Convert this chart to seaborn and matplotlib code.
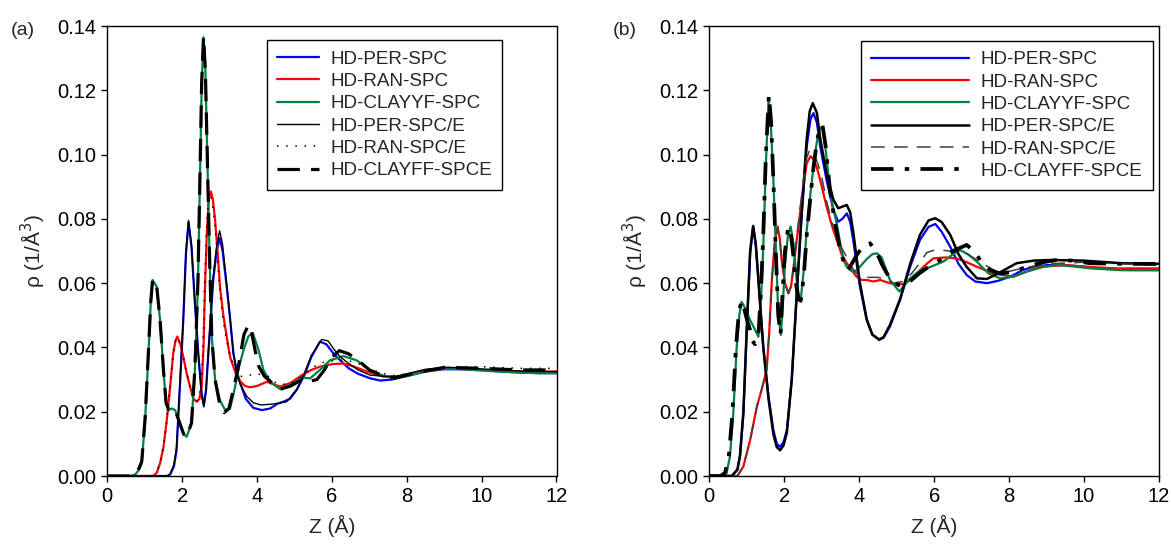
import matplotlib
matplotlib.use("Agg")
import matplotlib.pyplot as plt
import seaborn as sns
import pandas as pd

# ---------------- Panel (a) data ----------------
a_per_spc_z = [0, 1.3, 1.6, 1.68, 1.78, 1.85, 1.94, 2.03, 2.10, 2.17, 2.25, 2.34, 2.43, 2.52, 2.58, 2.64, 2.70,
               2.83, 2.92, 3.00, 3.08, 3.19, 3.28, 3.37, 3.46, 3.55, 3.70, 3.90, 4.13, 4.35, 4.55, 4.70, 4.88,
               5.06, 5.25, 5.45, 5.68, 5.85, 6.05, 6.22, 6.45, 6.70, 7.02, 7.29, 7.60, 8.0, 8.5, 8.98, 9.5,
               10.0, 10.5, 11.0, 11.5, 12.0]
a_per_spc = [0, 0, 0.0, 0.0005, 0.003, 0.008, 0.028, 0.0485, 0.069, 0.079, 0.0713, 0.0537, 0.0382, 0.0257,
             0.022, 0.027, 0.0382, 0.061, 0.070, 0.074, 0.070, 0.059, 0.049, 0.038, 0.0325, 0.029, 0.024,
             0.0212, 0.0205, 0.021, 0.0225, 0.0231, 0.024, 0.0268, 0.031, 0.037, 0.0418, 0.041, 0.038,
             0.036, 0.0335, 0.0318, 0.0304, 0.0297, 0.030, 0.0312, 0.0325, 0.0332, 0.0332, 0.033, 0.0325,
             0.0322, 0.032, 0.032]

a_ran_spc_z = [0, 1.23, 1.32, 1.41, 1.50, 1.59, 1.68, 1.76, 1.82, 1.87, 1.95, 2.03, 2.12, 2.21, 2.30, 2.39,
               2.46, 2.52, 2.57, 2.61, 2.66, 2.71, 2.77, 2.82, 2.88, 2.95, 3.01, 3.10, 3.19, 3.28, 3.37, 3.46,
               3.55, 3.68, 3.81, 4.0, 4.26, 4.45, 4.62, 4.9, 5.2, 5.45, 5.68, 6.0, 6.31, 6.6, 6.93, 7.38, 7.8,
               8.4, 9.0, 9.5, 10.0, 11.0, 12.0]
a_ran_spc = [0, 0, 0.001, 0.004, 0.009, 0.0174, 0.028, 0.038, 0.042, 0.0434, 0.041, 0.0371, 0.032, 0.0278,
             0.024, 0.0231, 0.024, 0.0278, 0.040, 0.0589, 0.076, 0.086, 0.0885, 0.086, 0.0797, 0.069, 0.0589,
             0.050, 0.0433, 0.037, 0.034, 0.031, 0.0295, 0.028, 0.0276, 0.028, 0.0293, 0.0285, 0.0278, 0.029,
             0.0314, 0.033, 0.034, 0.0348, 0.035, 0.034, 0.0325, 0.0309, 0.031, 0.0325, 0.0334, 0.0333, 0.033,
             0.0325, 0.0325]

a_clayyf_spc_z = [0, 0.6, 0.75, 0.85, 0.92, 1.01, 1.10, 1.16, 1.21, 1.32, 1.41, 1.50, 1.57, 1.64, 1.72, 1.81,
                  1.94, 2.04, 2.12, 2.25, 2.34, 2.42, 2.48, 2.52, 2.57, 2.62, 2.67, 2.73, 2.79, 2.88, 3.01,
                  3.15, 3.28, 3.40, 3.52, 3.64, 3.77, 3.89, 4.04, 4.17, 4.35, 4.62, 4.88, 5.2, 5.42, 5.68,
                  5.95, 6.31, 6.66, 7.02, 7.3, 7.64, 8.0, 8.5, 8.98, 9.5, 10.0, 10.5, 11.0, 11.5, 12.0]
a_clayyf_spc = [0, 0, 0.0005, 0.002, 0.004, 0.0174, 0.0382, 0.0538, 0.061, 0.0589, 0.0485, 0.033, 0.0226,
                0.0205, 0.021, 0.0205, 0.0164, 0.013, 0.0122, 0.0164, 0.033, 0.0589, 0.0952, 0.121, 0.1365,
                0.1263, 0.1004, 0.0693, 0.0434, 0.0299, 0.0235, 0.0205, 0.021, 0.027, 0.034, 0.0392, 0.0435,
                0.0444, 0.0392, 0.033, 0.0293, 0.027, 0.0283, 0.0306, 0.0304, 0.033, 0.036, 0.0373, 0.036,
                0.033, 0.0315, 0.0304, 0.031, 0.0325, 0.0335, 0.0332, 0.0328, 0.0325, 0.0322, 0.032, 0.032]

a_per_spce_z = [0, 1.3, 1.6, 1.68, 1.78, 1.85, 1.94, 2.03, 2.10, 2.17, 2.25, 2.34, 2.43, 2.52, 2.58, 2.64,
                2.70, 2.83, 2.92, 3.00, 3.08, 3.19, 3.28, 3.37, 3.46, 3.55, 3.73, 3.90, 4.10, 4.44, 4.79,
                5.06, 5.25, 5.45, 5.73, 5.90, 6.05, 6.22, 6.45, 6.70, 7.02, 7.40, 7.70, 8.0, 8.5, 9.0, 9.5,
                10.0, 10.5, 11.0, 11.5, 12.0]
a_per_spce = [0, 0, 0.0, 0.0006, 0.0035, 0.009, 0.029, 0.049, 0.0695, 0.0795, 0.0715, 0.054, 0.038, 0.025,
              0.0215, 0.027, 0.039, 0.062, 0.0715, 0.0763, 0.072, 0.0595, 0.049, 0.038, 0.032, 0.0285,
              0.0247, 0.0228, 0.0221, 0.0224, 0.0231, 0.027, 0.0315, 0.0375, 0.0425, 0.042, 0.0395, 0.0371,
              0.035, 0.033, 0.0314, 0.031, 0.031, 0.0318, 0.0332, 0.0338, 0.0337, 0.0333, 0.033, 0.0327,
              0.0325, 0.0325]

a_ran_spce_z = [0, 1.23, 1.32, 1.41, 1.50, 1.59, 1.68, 1.76, 1.82, 1.87, 1.95, 2.03, 2.12, 2.21, 2.30, 2.39,
                2.46, 2.52, 2.57, 2.61, 2.66, 2.72, 2.78, 2.84, 2.90, 2.96, 3.02, 3.10, 3.19, 3.28, 3.37, 3.46,
                3.55, 3.7, 3.85, 4.0, 4.3, 4.5, 4.7, 4.95, 5.2, 5.45, 5.7, 6.0, 6.3, 6.6, 6.9, 7.3, 7.7, 8.2,
                8.8, 9.3, 10.0, 11.0, 12.0]
a_ran_spce = [0, 0, 0.001, 0.004, 0.009, 0.0174, 0.028, 0.038, 0.042, 0.0432, 0.041, 0.037, 0.032, 0.0278,
              0.024, 0.0232, 0.025, 0.030, 0.045, 0.062, 0.079, 0.0875, 0.0865, 0.082, 0.075, 0.065, 0.056,
              0.048, 0.042, 0.0375, 0.0345, 0.032, 0.031, 0.031, 0.0315, 0.0318, 0.031, 0.029, 0.0285, 0.029,
              0.031, 0.0335, 0.0352, 0.0358, 0.036, 0.0355, 0.034, 0.032, 0.0312, 0.0322, 0.0335, 0.034,
              0.034, 0.0335, 0.0335]

a_clayff_spce_z = [0, 0.6, 0.75, 0.85, 0.92, 1.01, 1.10, 1.16, 1.21, 1.32, 1.41, 1.50, 1.57, 1.64, 1.72,
                   1.81, 1.94, 2.04, 2.12, 2.25, 2.34, 2.42, 2.48, 2.52, 2.57, 2.62, 2.67, 2.73, 2.79, 2.88,
                   3.01, 3.12, 3.25, 3.37, 3.50, 3.65, 3.77, 3.85, 3.95, 4.05, 4.20, 4.40, 4.62, 4.90, 5.20,
                   5.42, 5.60, 5.80, 6.00, 6.20, 6.45, 6.70, 7.00, 7.40, 7.70, 8.20, 9.00, 10.0, 11.0, 12.0]
a_clayff_spce = [0, 0, 0.0005, 0.0025, 0.0045, 0.018, 0.039, 0.054, 0.0612, 0.059, 0.0485, 0.033, 0.0228,
                 0.0206, 0.021, 0.0205, 0.0163, 0.013, 0.0122, 0.0165, 0.0335, 0.060, 0.096, 0.122, 0.1368,
                 0.126, 0.100, 0.069, 0.0434, 0.0299, 0.022, 0.0197, 0.021, 0.027, 0.034, 0.044, 0.047,
                 0.045, 0.039, 0.034, 0.031, 0.029, 0.027, 0.028, 0.030, 0.0295, 0.030, 0.033, 0.037, 0.039,
                 0.038, 0.036, 0.033, 0.031, 0.0305, 0.032, 0.0338, 0.0335, 0.033, 0.033]

# ---------------- Panel (b) data ----------------
b_per_spc_z = [0, 0.6, 0.75, 0.82, 0.91, 1.0, 1.09, 1.17, 1.24, 1.31, 1.44, 1.58, 1.71, 1.80, 1.89, 1.98,
               2.07, 2.20, 2.33, 2.47, 2.60, 2.70, 2.78, 2.87, 2.96, 3.13, 3.31, 3.44, 3.55, 3.67, 3.76, 3.84,
               4.02, 4.20, 4.35, 4.53, 4.65, 4.82, 5.09, 5.36, 5.62, 5.85, 6.03, 6.20, 6.43, 6.65, 6.87, 7.10,
               7.41, 7.70, 8.03, 8.35, 8.65, 9.0, 9.36, 9.9, 10.43, 11.2, 12.0]
b_per_spc = [0, 0, 0.002, 0.006, 0.0195, 0.0454, 0.0693, 0.0776, 0.072, 0.061, 0.0402, 0.0247, 0.0143, 0.010,
             0.0091, 0.0105, 0.0143, 0.030, 0.0558, 0.0817, 0.1025, 0.111, 0.1129, 0.110, 0.1025, 0.092,
             0.0828, 0.0791, 0.080, 0.0817, 0.079, 0.0734, 0.0589, 0.0485, 0.044, 0.0423, 0.043, 0.0465,
             0.0548, 0.0651, 0.0734, 0.0775, 0.0784, 0.076, 0.0713, 0.066, 0.0625, 0.0605, 0.060, 0.0607,
             0.062, 0.064, 0.0651, 0.0656, 0.0657, 0.0652, 0.0646, 0.0641, 0.064]

b_ran_spc_z = [0, 0.75, 0.91, 1.09, 1.27, 1.40, 1.53, 1.60, 1.67, 1.74, 1.82, 1.88, 1.93, 2.02, 2.11, 2.18,
               2.24, 2.33, 2.42, 2.51, 2.60, 2.70, 2.78, 2.87, 2.96, 3.13, 3.27, 3.40, 3.53, 3.67, 3.80, 3.93,
               4.06, 4.20, 4.38, 4.56, 4.73, 4.91, 5.18, 5.45, 5.62, 5.80, 5.98, 6.30, 6.60, 6.87, 7.14, 7.58,
               8.12, 8.45, 8.83, 9.54, 10.2, 10.88, 12.0]
b_ran_spc = [0, 0, 0.003, 0.0112, 0.0216, 0.027, 0.033, 0.045, 0.061, 0.072, 0.0776, 0.074, 0.0672, 0.060,
             0.0568, 0.059, 0.0641, 0.073, 0.0817, 0.090, 0.0973, 0.0995, 0.0985, 0.096, 0.092, 0.0838, 0.078,
             0.0734, 0.069, 0.0662, 0.064, 0.062, 0.061, 0.061, 0.0605, 0.061, 0.0603, 0.0597, 0.0597, 0.0615,
             0.064, 0.066, 0.0677, 0.068, 0.0677, 0.0665, 0.0651, 0.063, 0.062, 0.0635, 0.0651, 0.0656, 0.065,
             0.0646, 0.0646]

b_clayyf_spc_z = [0, 0.35, 0.46, 0.55, 0.64, 0.73, 0.80, 0.86, 0.92, 1.00, 1.09, 1.20, 1.31, 1.38, 1.44, 1.51,
                  1.58, 1.64, 1.71, 1.78, 1.84, 1.91, 1.97, 2.02, 2.10, 2.17, 2.25, 2.33, 2.39, 2.44, 2.52, 2.60,
                  2.70, 2.78, 2.87, 2.95, 3.02, 3.10, 3.22, 3.31, 3.40, 3.50, 3.58, 3.67, 3.76, 3.88, 4.02, 4.20,
                  4.35, 4.47, 4.60, 4.82, 5.07, 5.36, 5.62, 5.89, 6.25, 6.50, 6.69, 6.90, 7.14, 7.45, 7.76, 8.10,
                  8.47, 8.90, 9.27, 9.70, 10.16, 11.05, 12.0]
b_clayyf_spc = [0, 0, 0.0008, 0.006, 0.0195, 0.040, 0.050, 0.0542, 0.053, 0.051, 0.0485, 0.046, 0.0433, 0.055,
                0.0713, 0.097, 0.117, 0.110, 0.092, 0.070, 0.0506, 0.0439, 0.055, 0.0662, 0.075, 0.0776, 0.072,
                0.061, 0.056, 0.0548, 0.064, 0.0765, 0.088, 0.0962, 0.104, 0.108, 0.1087, 0.102, 0.089, 0.083,
                0.0786, 0.072, 0.0672, 0.065, 0.064, 0.0635, 0.0651, 0.0675, 0.069, 0.0693, 0.068, 0.061,
                0.0574, 0.0615, 0.064, 0.065, 0.0667, 0.069, 0.0703, 0.069, 0.0667, 0.063, 0.0615, 0.062,
                0.0636, 0.065, 0.0657, 0.0652, 0.0646, 0.064, 0.0641]

b_per_spce_z = [0, 0.6, 0.75, 0.82, 0.91, 1.0, 1.09, 1.17, 1.24, 1.31, 1.44, 1.58, 1.71, 1.80, 1.89, 1.98,
                2.07, 2.20, 2.33, 2.47, 2.60, 2.68, 2.76, 2.87, 2.96, 3.13, 3.31, 3.44, 3.55, 3.67, 3.76, 3.84,
                4.02, 4.20, 4.35, 4.53, 4.65, 4.82, 5.09, 5.36, 5.62, 5.85, 6.03, 6.20, 6.43, 6.65, 6.87, 7.14,
                7.41, 7.70, 8.20, 8.65, 9.10, 10.0, 11.0, 12.0]
b_per_spce = [0, 0, 0.002, 0.0065, 0.020, 0.046, 0.070, 0.0778, 0.0722, 0.061, 0.040, 0.024, 0.013, 0.009,
              0.0080, 0.0095, 0.0135, 0.030, 0.056, 0.083, 0.105, 0.1135, 0.116, 0.113, 0.105, 0.094, 0.086,
              0.0833, 0.0838, 0.0843, 0.082, 0.076, 0.060, 0.0488, 0.044, 0.0425, 0.0432, 0.047, 0.055, 0.066,
              0.075, 0.0795, 0.0802, 0.079, 0.075, 0.069, 0.065, 0.0615, 0.0613, 0.063, 0.0662, 0.067, 0.0672,
              0.067, 0.0662, 0.066]

b_ran_spce_z = [0, 0.75, 0.91, 1.09, 1.27, 1.40, 1.53, 1.60, 1.67, 1.74, 1.82, 1.88, 1.93, 2.02, 2.11, 2.18,
                2.24, 2.33, 2.42, 2.51, 2.60, 2.68, 2.80, 2.90, 3.00, 3.13, 3.27, 3.40, 3.53, 3.67, 3.80, 3.93,
                4.06, 4.20, 4.50, 4.70, 4.90, 5.15, 5.40, 5.60, 5.80, 6.07, 6.40, 6.90, 7.30, 7.76, 8.30, 9.0,
                10.0, 11.0, 12.0]
b_ran_spce = [0, 0, 0.003, 0.0112, 0.0216, 0.027, 0.033, 0.045, 0.061, 0.072, 0.0776, 0.074, 0.0672, 0.060,
              0.0568, 0.059, 0.0641, 0.074, 0.083, 0.092, 0.099, 0.1015, 0.100, 0.097, 0.093, 0.0855, 0.079,
              0.075, 0.071, 0.068, 0.065, 0.063, 0.062, 0.0618, 0.0618, 0.0612, 0.060, 0.0605, 0.063, 0.066,
              0.0695, 0.0705, 0.070, 0.069, 0.066, 0.063, 0.0645, 0.066, 0.0665, 0.066, 0.0655]

b_clayff_spce_z = [0, 0.30, 0.42, 0.52, 0.62, 0.71, 0.79, 0.86, 0.93, 1.02, 1.09, 1.15, 1.22, 1.31, 1.38,
                   1.44, 1.51, 1.59, 1.65, 1.71, 1.78, 1.84, 1.90, 1.96, 2.02, 2.10, 2.15, 2.23, 2.31, 2.38,
                   2.44, 2.52, 2.60, 2.70, 2.78, 2.87, 2.95, 3.02, 3.10, 3.22, 3.31, 3.40, 3.50, 3.60, 3.70,
                   3.80, 3.95, 4.10, 4.29, 4.45, 4.60, 4.74, 4.90, 5.05, 5.30, 5.60, 5.90, 6.16, 6.50, 6.87,
                   7.05, 7.23, 7.50, 7.76, 8.10, 8.47, 8.90, 9.27, 9.70, 10.16, 11.0, 12.0]
b_clayff_spce = [0, 0, 0.001, 0.006, 0.020, 0.040, 0.051, 0.0545, 0.052, 0.048, 0.0454, 0.042, 0.041, 0.0435,
                 0.058, 0.075, 0.100, 0.1185, 0.110, 0.092, 0.068, 0.050, 0.044, 0.058, 0.070, 0.077, 0.0775,
                 0.070, 0.060, 0.055, 0.0545, 0.062, 0.075, 0.087, 0.096, 0.104, 0.1085, 0.1092, 0.103, 0.089,
                 0.082, 0.076, 0.070, 0.066, 0.064, 0.066, 0.069, 0.0715, 0.0724, 0.070, 0.066, 0.063, 0.0605,
                 0.0594, 0.060, 0.063, 0.0655, 0.0672, 0.070, 0.0719, 0.070, 0.0672, 0.064, 0.063, 0.0635,
                 0.0651, 0.0665, 0.0672, 0.067, 0.0662, 0.066, 0.066]

labels_a = ["HD-PER-SPC", "HD-RAN-SPC", "HD-CLAYYF-SPC", "HD-PER-SPC/E", "HD-RAN-SPC/E", "HD-CLAYFF-SPCE"]
labels_b = labels_a
x_ticks = [0, 2, 4, 6, 8, 10, 12]
y_ticks = [0.00, 0.02, 0.04, 0.06, 0.08, 0.10, 0.12, 0.14]

# ---------------- styling ----------------
sns.set_theme(style="ticks")
plt.rcParams["font.family"] = ["Liberation Sans", "DejaVu Sans"]
plt.rcParams["axes.linewidth"] = 1.0
plt.rcParams["axes.edgecolor"] = "black"
plt.rcParams["xtick.color"] = "black"
plt.rcParams["ytick.color"] = "black"
plt.rcParams["xtick.direction"] = "out"
plt.rcParams["ytick.direction"] = "out"
plt.rcParams["xtick.major.size"] = 4
plt.rcParams["ytick.major.size"] = 4
plt.rcParams["xtick.major.width"] = 1.0
plt.rcParams["ytick.major.width"] = 1.0
plt.rcParams["lines.solid_joinstyle"] = "round"
plt.rcParams["lines.dash_joinstyle"] = "round"

BLUE = "#0000ff"
RED = "#ff0000"
GREEN = "#008040"

styles_a = [
    dict(color=BLUE, lw=1.6, linestyle="-"),
    dict(color=RED, lw=1.6, linestyle="-"),
    dict(color=GREEN, lw=1.6, linestyle="-"),
    dict(color="black", lw=1.0, linestyle="-"),
    dict(color="black", lw=1.1, linestyle=(0, (1, 5))),
    dict(color="black", lw=2.3, linestyle=(0, (7, 3.5))),
]
styles_b = [
    dict(color=BLUE, lw=1.6, linestyle="-"),
    dict(color=RED, lw=1.6, linestyle="-"),
    dict(color=GREEN, lw=1.6, linestyle="-"),
    dict(color="black", lw=1.8, linestyle="-"),
    dict(color="#404040", lw=1.1, linestyle=(0, (9, 6))),
    dict(color="black", lw=2.7, linestyle=(0, (6, 3, 1.2, 3))),
]

fig = plt.figure(figsize=(11.71, 5.44), dpi=100)
ax_a = fig.add_axes([107.3 / 1171, 68 / 544, 449.2 / 1171, 450 / 544])
ax_b = fig.add_axes([709.3 / 1171, 68 / 544, 449.7 / 1171, 450 / 544])

series_a = [(a_per_spc_z, a_per_spc), (a_ran_spc_z, a_ran_spc), (a_clayyf_spc_z, a_clayyf_spc),
            (a_per_spce_z, a_per_spce), (a_ran_spce_z, a_ran_spce), (a_clayff_spce_z, a_clayff_spce)]
series_b = [(b_per_spc_z, b_per_spc), (b_ran_spc_z, b_ran_spc), (b_clayyf_spc_z, b_clayyf_spc),
            (b_per_spce_z, b_per_spce), (b_ran_spce_z, b_ran_spce), (b_clayff_spce_z, b_clayff_spce)]


def draw(ax, series, labels, styles, leg_anchor, handlelength, tag):
    for (z, r), lab, st in zip(series, labels, styles):
        df = pd.DataFrame({"Z": z, "rho": r})
        sns.lineplot(data=df, x="Z", y="rho", ax=ax, estimator=None, errorbar=None,
                     sort=False, label=lab, **st)
    ax.set_xlim(0, 12)
    ax.set_ylim(0, 0.14)
    ax.set_xticks(x_ticks)
    ax.set_xticklabels([str(t) for t in x_ticks])
    ax.set_yticks(y_ticks)
    ax.set_yticklabels([f"{t:.2f}" for t in y_ticks])
    ax.tick_params(labelsize=14.5, pad=4)
    for s in ax.spines.values():
        s.set_visible(True)
        s.set_color("black")
    ax.set_xlabel("Z (Å)", fontsize=15)
    ax.set_ylabel("ρ (1/Å$^3$)", fontsize=15)
    ax.xaxis.set_label_coords(0.5, -0.112)
    ax.xaxis.label.set_va("center")
    ax.yaxis.set_label_coords(-0.165, 0.5)
    ax.yaxis.label.set_va("center")
    leg = ax.legend(loc="upper left", bbox_to_anchor=leg_anchor, borderaxespad=0, fontsize=13.6,
                    handlelength=handlelength, handletextpad=0.6, labelspacing=0.27,
                    borderpad=0.55, frameon=True, fancybox=False, framealpha=1)
    leg.get_frame().set_edgecolor("black")
    leg.get_frame().set_linewidth(1.0)
    ax.text(-0.215, 0.99, tag, transform=ax.transAxes, fontsize=14, ha="left", va="center")


draw(ax_a, series_a, labels_a, styles_a, (0.3555, 0.969), 2.2, "(a)")
draw(ax_b, series_b, labels_b, styles_b, (0.337, 0.967), 5.2, "(b)")

fig.savefig("out.png", dpi=100)
